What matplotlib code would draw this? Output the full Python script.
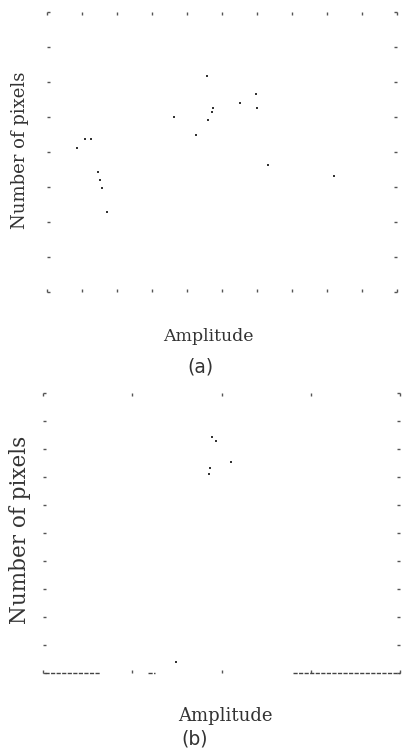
import matplotlib
matplotlib.use("Agg")
import matplotlib.pyplot as plt
import numpy as np

# ---- data (visible fragments only) ----
# panel (a): amplitude (x, 0..10) vs number of pixels (y, 0..8)
amp_a = [0.86, 1.09, 1.26, 1.46, 1.51, 1.57, 1.71, 3.63, 4.26, 4.57, 4.60,
         4.71, 4.74, 5.51, 5.97, 6.00, 6.31, 8.20]
cnt_a = [4.11, 4.37, 4.37, 3.43, 3.20, 2.97, 2.29, 5.00, 4.49, 6.17, 4.91,
         5.14, 5.26, 5.40, 5.66, 5.26, 3.63, 3.31]

# panel (b): amplitude (x, 0..10) vs number of pixels (y, 0..10)
amp_b = [4.73, 4.85, 4.68, 5.28, 4.65, 3.73]
cnt_b = [8.43, 8.27, 7.32, 7.54, 7.11, 0.39]
# empty bins drawn along the zero line
zero_segments_b = [(0.05, 1.60), (2.95, 3.15), (7.00, 10.0)]

xticks_a = np.arange(0, 11, 1)
yticks_a = np.arange(0, 9, 1)
xticks_b = [0, 2.5, 5, 7.5, 10]
yticks_b = np.arange(0, 11, 1)

ink = "#333333"

fig = plt.figure(figsize=(4.04, 7.53), dpi=100)
ax_a = fig.add_axes([47/404, 1-292/753, 350/404, 280/753])
ax_b = fig.add_axes([43/404, 1-673/753, 357/404, 280/753])

def style(ax, xt, yt, xl, yl):
    ax.set_xlim(*xl)
    ax.set_ylim(*yl)
    ax.set_xticks(xt)
    ax.set_yticks(yt)
    ax.tick_params(direction="in", length=2.5, width=1.0, color="#555555",
                   top=True, right=True, labelbottom=False, labelleft=False)
    for s in ax.spines.values():
        s.set_visible(False)

style(ax_a, xticks_a, yticks_a, (0, 10), (0, 8))
style(ax_b, xticks_b, yticks_b, (0, 10), (0, 10))

ax_a.plot(amp_a, cnt_a, linestyle="none", marker="s", markersize=1.8,
          color=ink, markeredgewidth=0)
ax_b.plot(amp_b, cnt_b, linestyle="none", marker="s", markersize=2.0,
          color=ink, markeredgewidth=0)
for x0, x1 in zero_segments_b:
    ax_b.plot([x0, x1], [0, 0], linestyle=(0, (3, 1)), linewidth=1.0,
              color="#444444", clip_on=False)

fig.text(20/404, 1-150/753, "Number of pixels", family="DejaVu Serif",
         fontsize=13, color=ink, ha="center", va="center", rotation=90)
fig.text(20/404, 1-530/753, "Number of pixels", family="DejaVu Serif",
         fontsize=15.5, color=ink, ha="center", va="center", rotation=90)

fig.text(208/404, 1-336/753, "Amplitude", family="DejaVu Serif",
         fontsize=12.5, color=ink, ha="center", va="center")
fig.text(200/404, 1-367/753, "(a)", family="DejaVu Sans",
         fontsize=13.5, color=ink, ha="center", va="center")
fig.text(225/404, 1-716/753, "Amplitude", family="DejaVu Serif",
         fontsize=13, color=ink, ha="center", va="center")
fig.text(195/404, 1-739/753, "(b)", family="DejaVu Sans",
         fontsize=13.5, color=ink, ha="center", va="center")

fig.savefig("out.png", dpi=100)
